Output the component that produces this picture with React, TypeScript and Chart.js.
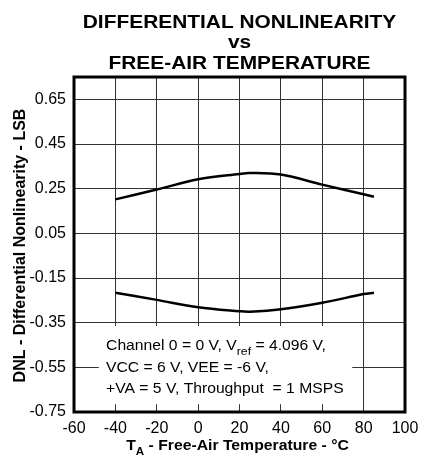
import React, { useEffect, useRef } from "react";
import { Chart, registerables } from "chart.js";

Chart.register(...registerables);

const TEMPS = [-40, -20, 0, 20, 25, 40, 60, 80, 85];
const DNL_MAX = [0.202, 0.246, 0.292, 0.316, 0.32, 0.313, 0.268, 0.225, 0.214];
const DNL_MIN = [-0.216, -0.248, -0.281, -0.299, -0.301, -0.29, -0.261, -0.222, -0.216];
const X_TICKS = [-60, -40, -20, 0, 20, 40, 60, 80, 100];
const Y_TICKS = [-0.75, -0.55, -0.35, -0.15, 0.05, 0.25, 0.45, 0.65];
const TITLE_LINES = ["DIFFERENTIAL NONLINEARITY", "vs", "FREE-AIR TEMPERATURE"];
const Y_TITLE = "DNL - Differential Nonlinearity - LSB";
const NOTE_LINES = [
  [{ t: "Channel 0 = 0 V, V" }, { t: "ref", sub: true }, { t: " = 4.096 V," }],
  [{ t: "VCC = 6 V, VEE = -6 V," }],
  [{ t: "+VA = 5 V, Throughput  = 1 MSPS" }],
];

const FAM = "'Liberation Sans', Arial, Helvetica, sans-serif";

type Run = { text: string; font: string; dy?: number };

function drawRuns(ctx: CanvasRenderingContext2D, runs: Run[], x: number, y: number, align: "left" | "center", sx: number) {
  ctx.save();
  ctx.textAlign = "left";
  ctx.textBaseline = "alphabetic";
  ctx.fillStyle = "#000";
  let total = 0;
  const widths = runs.map((r) => {
    ctx.font = r.font;
    const w = ctx.measureText(r.text).width;
    total += w;
    return w;
  });
  ctx.translate(x, y);
  ctx.scale(sx, 1);
  let cur = align === "center" ? -total / 2 : 0;
  runs.forEach((r, i) => {
    ctx.font = r.font;
    ctx.fillText(r.text, cur, r.dy || 0);
    cur += widths[i];
  });
  ctx.restore();
}

const decorPlugin = {
  id: "decor",
  beforeDatasetsDraw(chart: any) {
    const ctx = chart.ctx as CanvasRenderingContext2D;
    const xs = chart.scales.x;
    const ys = chart.scales.y;
    // white box behind note
    const bx0 = xs.getPixelForValue(-48);
    const bx1 = xs.getPixelForValue(74.5);
    const by0 = ys.getPixelForValue(-0.365);
    const by1 = ys.getPixelForValue(-0.715);
    ctx.save();
    ctx.fillStyle = "#fff";
    ctx.fillRect(bx0, by0, bx1 - bx0, by1 - by0);
    ctx.restore();
    const baseX = xs.getPixelForValue(-44.5);
    const baseYs = [350, 372, 393];
    NOTE_LINES.forEach((line, i) => {
      const runs: Run[] = line.map((p: any) =>
        p.sub
          ? { text: p.t, font: `11px ${FAM}`, dy: 5 }
          : { text: p.t, font: `14px ${FAM}` }
      );
      drawRuns(ctx, runs, baseX, baseYs[i], "left", 1.12);
    });
  },
  afterDatasetsDraw(chart: any) {
    const ctx = chart.ctx as CanvasRenderingContext2D;
    const a = chart.chartArea;
    ctx.save();
    ctx.strokeStyle = "#000";
    ctx.lineWidth = 3;
    ctx.strokeRect(a.left, a.top, a.right - a.left, a.bottom - a.top);
    ctx.restore();
  },
  afterDraw(chart: any) {
    const ctx = chart.ctx as CanvasRenderingContext2D;
    const a = chart.chartArea;
    const cx = (a.left + a.right) / 2;
    const tb = [28, 48, 69];
    TITLE_LINES.forEach((l, i) => {
      drawRuns(ctx, [{ text: l, font: `bold 19px ${FAM}` }], cx, tb[i], "center", 1.1);
    });
    // x title
    drawRuns(
      ctx,
      [
        { text: "T", font: `bold 15px ${FAM}` },
        { text: "A", font: `bold 11px ${FAM}`, dy: 5 },
        { text: " - Free-Air Temperature - °C", font: `bold 15px ${FAM}` },
      ],
      cx - 2,
      450,
      "center",
      1.05
    );
    // y title
    ctx.save();
    ctx.translate(25, (a.top + a.bottom) / 2 + 1);
    ctx.rotate(-Math.PI / 2);
    ctx.font = `bold 16px ${FAM}`;
    ctx.fillStyle = "#000";
    ctx.textAlign = "center";
    ctx.textBaseline = "alphabetic";
    ctx.fillText(Y_TITLE, 0, 0);
    ctx.restore();
  },
};

export default function App() {
  const ref = useRef<HTMLCanvasElement | null>(null);
  useEffect(() => {
    if (!ref.current) return;
    const chart = new Chart(ref.current, {
      type: "line",
      data: {
        datasets: [
          {
            label: "DNL max",
            data: TEMPS.map((t, i) => ({ x: t, y: DNL_MAX[i] })),
            borderColor: "#000",
            borderWidth: 2.5,
            pointRadius: 0,
            tension: 0.35,
            fill: false,
          },
          {
            label: "DNL min",
            data: TEMPS.map((t, i) => ({ x: t, y: DNL_MIN[i] })),
            borderColor: "#000",
            borderWidth: 2.5,
            pointRadius: 0,
            tension: 0.35,
            fill: false,
          },
        ],
      },
      options: {
        responsive: false,
        animation: false,
        devicePixelRatio: 1,
        layout: { padding: { top: 77, right: 26, left: 0, bottom: 0 } },
        plugins: {
          legend: { display: false },
          title: { display: false },
          tooltip: { enabled: false },
        },
        scales: {
          x: {
            type: "linear",
            min: -60,
            max: 100,
            afterBuildTicks: (s: any) => {
              s.ticks = X_TICKS.map((v) => ({ value: v }));
            },
            afterFit: (s: any) => {
              s.height = 52;
            },
            ticks: {
              color: "#000",
              font: { family: FAM, size: 16 },
              padding: 7,
              maxRotation: 0,
              autoSkip: false,
              callback: (v: any) => String(v),
            },
            grid: { color: "#333", lineWidth: 1, drawTicks: false },
            border: { display: false },
          },
          y: {
            type: "linear",
            min: -0.75,
            max: 0.75,
            afterBuildTicks: (s: any) => {
              s.ticks = Y_TICKS.map((v) => ({ value: v }));
            },
            afterFit: (s: any) => {
              s.width = 74;
            },
            ticks: {
              color: "#000",
              font: { family: FAM, size: 16 },
              padding: 8,
              autoSkip: false,
              callback: (v: any) => Number(v).toFixed(2),
            },
            grid: { color: "#333", lineWidth: 1, drawTicks: false },
            border: { display: false },
          },
        },
      },
      plugins: [decorPlugin],
    } as any);
    return () => chart.destroy();
  }, []);
  return (
    <div style={{ position: "fixed", left: 0, top: 0, width: 431, height: 464, background: "#fff" }}>
      <canvas ref={ref} width={431} height={464} style={{ display: "block", width: 431, height: 464 }} />
    </div>
  );
}
